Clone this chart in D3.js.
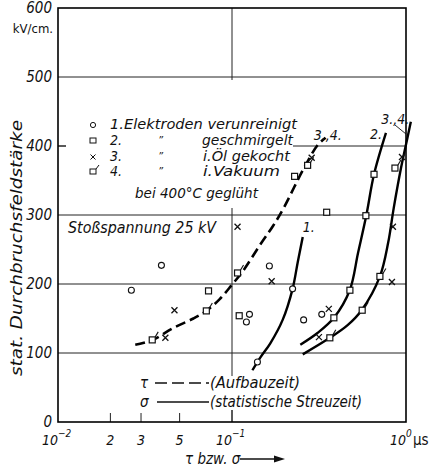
<!DOCTYPE html>
<html>
<head>
<meta charset="utf-8">
<script src="https://cdn.jsdelivr.net/npm/d3@7"></script>
<style>
  body { margin: 0; background: #fff; }
  text { font-family: "DejaVu Sans Condensed", "DejaVu Sans", sans-serif; font-style: italic; fill: #111; }
</style>
</head>
<body>
<script>

// tick values
var yTicks = [0, 100, 200, 300, 400, 500, 600];
var xMinorTicks = [0.02, 0.03, 0.05];
var xMinorLabels = ["2", "3", "5"];
var xDecades = [0.01, 0.1, 1];
var xDecadeExp = ["-2", "-1", "0"];

// measured points [tau or sigma in µs, kV/cm]
var pts1 = [[0.0264, 191], [0.0393, 227], [0.121, 145], [0.126, 156], [0.164, 226],
            [0.14, 87], [0.223, 193], [0.258, 148], [0.328, 156]];
var pts2 = [[0.0733, 190], [0.110, 154], [0.229, 356], [0.35, 304], [0.588, 299],
            [0.655, 359], [0.476, 191], [0.385, 151]];
var pts3 = [[0.0467, 162], [0.0414, 122], [0.1076, 283], [0.169, 204], [0.36, 164],
            [0.316, 123], [0.841, 283], [0.83, 203], [0.948, 384], [0.287, 383]];
var pts4 = [[0.0348, 119], [0.0712, 161], [0.1076, 216], [0.272, 372], [0.365, 122],
            [0.56, 162], [0.708, 211], [0.864, 368]];

// fitted curves
var tau34 = [[0.0278, 112], [0.035, 119], [0.0457, 136], [0.06, 150], [0.0712, 161],
             [0.085, 178], [0.1, 199], [0.115, 218], [0.147, 259], [0.172, 284],
             [0.198, 310], [0.2555, 365], [0.31, 401], [0.345, 412]];
var sigma1 = [[0.131, 75], [0.146, 94], [0.166, 114], [0.1955, 148], [0.223, 193],
              [0.2388, 232], [0.255, 268]];
var sigma2 = [[0.247, 112], [0.31, 129], [0.385, 151], [0.475, 191], [0.53, 245],
              [0.592, 300], [0.655, 359], [0.767, 419]];
var sigma34 = [[0.255, 98], [0.365, 122], [0.46, 140], [0.556, 162], [0.708, 211],
               [0.79, 260], [0.85, 310], [0.936, 368], [0.99, 397], [1.066, 435]];

function load() {

  var width = 435, height = 469;
  var left = 58, right = 406, top = 8, bottom = 422;

  var svg = d3.select("body").append("svg")
      .attr("width", width)
      .attr("height", height);

  var x = d3.scaleLog().domain([0.01, 1]).range([left, right]);
  var y = d3.scaleLinear().domain([0, 600]).range([bottom, top]);

  // grid lines
  svg.selectAll(".hgrid")
     .data(yTicks.filter(function(d) { return d > 0 && d < 600; }))
     .enter().append("line")
     .attr("x1", left).attr("x2", right)
     .attr("y1", function(d) { return y(d); })
     .attr("y2", function(d) { return y(d); })
     .attr("stroke", "#222").attr("stroke-width", 1);

  svg.append("line")
     .attr("x1", x(0.1)).attr("x2", x(0.1))
     .attr("y1", top).attr("y2", bottom)
     .attr("stroke", "#222").attr("stroke-width", 1);

  // white masks behind the legend texts
  svg.append("rect").attr("x", 66).attr("y", 80).attr("width", 227).attr("height", 128).attr("fill", "#fff");
  svg.append("rect").attr("x", 138).attr("y", 376).attr("width", 228).attr("height", 34).attr("fill", "#fff");

  // minor ticks inside the frame
  svg.selectAll(".xtick")
     .data(xMinorTicks)
     .enter().append("line")
     .attr("x1", function(d) { return x(d); })
     .attr("x2", function(d) { return x(d); })
     .attr("y1", bottom).attr("y2", bottom - 9)
     .attr("stroke", "#222");
  svg.append("line")
     .attr("x1", x(0.1)).attr("x2", x(0.1))
     .attr("y1", bottom).attr("y2", bottom - 12)
     .attr("stroke", "#222");
  svg.append("line")
     .attr("x1", left).attr("x2", left + 8)
     .attr("y1", y(400)).attr("y2", y(400))
     .attr("stroke", "#222");

  // frame
  svg.append("rect")
     .attr("x", left).attr("y", top)
     .attr("width", right - left).attr("height", bottom - top)
     .attr("fill", "none").attr("stroke", "#000").attr("stroke-width", 1.6);

  // y axis labels
  var yAxis = d3.axisLeft(y).tickValues(yTicks).tickSize(0).tickPadding(6);
  var yg = svg.append("g")
     .attr("transform", "translate(" + left + ",0)")
     .call(yAxis);
  yg.select(".domain").remove();
  yg.selectAll("text")
     .attr("font-size", 15)
     .style("font-family", "DejaVu Sans Condensed")
     .style("font-style", "italic")
     .attr("fill", "#111");

  svg.append("text")
     .attr("x", 53).attr("y", 33)
     .attr("text-anchor", "end")
     .attr("font-size", 13)
     .style("font-style", "normal")
     .text("kV/cm.");

  // x tick labels
  svg.selectAll(".xminor")
     .data(xMinorTicks)
     .enter().append("text")
     .attr("x", function(d) { return x(d); })
     .attr("y", 445)
     .attr("text-anchor", "middle")
     .attr("font-size", 14)
     .text(function(d, i) { return xMinorLabels[i]; });

  var dec = svg.selectAll(".xdec")
     .data(xDecades)
     .enter().append("g")
     .attr("transform", function(d) { return "translate(" + x(d) + ",445)"; });
  dec.append("text")
     .attr("text-anchor", "end").attr("x", 0)
     .attr("font-size", 14)
     .text("10");
  dec.append("text")
     .attr("x", 0).attr("y", -8)
     .attr("font-size", 10)
     .text(function(d, i) { return xDecadeExp[i] == "0" ? "0" : "\u2212" + xDecadeExp[i].slice(1); });

  svg.append("text")
     .attr("x", 413).attr("y", 445)
     .attr("font-size", 15)
     .style("font-style", "normal")
     .text("\u00b5s");

  // x title
  svg.append("text")
     .attr("x", 185).attr("y", 464)
     .attr("font-size", 15)
     .text("\u03c4 bzw. \u03c3");
  svg.append("line")
     .attr("x1", 240).attr("x2", 281).attr("y1", 459).attr("y2", 459)
     .attr("stroke", "#111").attr("stroke-width", 1.3);
  svg.append("path")
     .attr("d", "M285,459 L274,455.5 L274,462.5 Z")
     .attr("fill", "#111");

  // y title
  svg.append("text")
     .attr("transform", "translate(22,248) rotate(-90)")
     .attr("text-anchor", "middle")
     .attr("font-size", 16)
     .attr("textLength", 256)
     .attr("lengthAdjust", "spacingAndGlyphs")
     .text("stat. Durchbruchsfeldst\u00e4rke");

  // curves
  var line = d3.line()
     .x(function(d) { return x(d[0]); })
     .y(function(d) { return y(d[1]); })
     .curve(d3.curveCatmullRom.alpha(0.5));

  svg.append("path").datum(tau34)
     .attr("d", line).attr("fill", "none")
     .attr("stroke", "#000").attr("stroke-width", 2.6)
     .attr("stroke-dasharray", "10,5");

  [sigma1, sigma2, sigma34].forEach(function(c) {
    svg.append("path").datum(c)
       .attr("d", line).attr("fill", "none")
       .attr("stroke", "#000").attr("stroke-width", 2.4);
  });

  // markers
  function pos(d) { return "translate(" + x(d[0]) + "," + y(d[1]) + ")"; }

  svg.selectAll(".p1").data(pts1).enter().append("circle")
     .attr("cx", function(d) { return x(d[0]); })
     .attr("cy", function(d) { return y(d[1]); })
     .attr("r", 3).attr("fill", "#fff").attr("stroke", "#111").attr("stroke-width", 1.1);

  svg.selectAll(".p2").data(pts2).enter().append("rect")
     .attr("x", function(d) { return x(d[0]) - 3; })
     .attr("y", function(d) { return y(d[1]) - 3; })
     .attr("width", 6).attr("height", 6)
     .attr("fill", "#fff").attr("stroke", "#111").attr("stroke-width", 1.2);

  svg.selectAll(".p3").data(pts3).enter().append("path")
     .attr("transform", pos)
     .attr("d", "M-3,-3L3,3M-3,3L3,-3")
     .attr("stroke", "#111").attr("stroke-width", 1.3);

  var g4 = svg.selectAll(".p4").data(pts4).enter().append("g")
     .attr("transform", pos);
  g4.append("rect")
     .attr("x", -3).attr("y", -3).attr("width", 6).attr("height", 6)
     .attr("fill", "#fff").attr("stroke", "#111").attr("stroke-width", 1.2);
  g4.append("path")
     .attr("d", "M3,-3L6,-8")
     .attr("fill", "none").attr("stroke", "#111").attr("stroke-width", 1.1);

  // curve labels
  function label(v, e, s) {
    svg.append("text")
       .attr("x", x(v)).attr("y", y(e))
       .attr("font-size", 14)
       .text(s);
  }
  label(0.295, 409, "3.,4.");
  label(0.62, 410, "2.");
  label(0.72, 432, "3.,4.");
  label(0.255, 275, "1.");
  svg.append("line")
     .attr("x1", 395).attr("y1", 125).attr("x2", 406).attr("y2", 134)
     .attr("stroke", "#111").attr("stroke-width", 0.9);

  // legend (upper)
  var legRows = [129, 145, 161, 176];
  svg.append("circle").attr("cx", 93).attr("cy", legRows[0] - 4).attr("r", 2.6)
     .attr("fill", "#fff").attr("stroke", "#111");
  svg.append("rect").attr("x", 90).attr("y", legRows[1] - 7).attr("width", 6).attr("height", 5)
     .attr("fill", "#fff").attr("stroke", "#111");
  svg.append("path").attr("transform", "translate(93," + (legRows[2] - 4) + ")")
     .attr("d", "M-2.5,-2.5L2.5,2.5M-2.5,2.5L2.5,-2.5").attr("stroke", "#111");
  svg.append("rect").attr("x", 90).attr("y", legRows[3] - 7).attr("width", 6).attr("height", 5)
     .attr("fill", "#fff").attr("stroke", "#111");
  svg.append("path").attr("d", "M96," + (legRows[3] - 7) + "L99," + (legRows[3] - 11))
     .attr("stroke", "#111").attr("fill", "none");

  svg.append("text").attr("x", 110).attr("y", legRows[0]).attr("font-size", 14)
     .attr("textLength", 187).attr("lengthAdjust", "spacingAndGlyphs")
     .text("1.Elektroden verunreinigt");
  ["2.", "3.", "4."].forEach(function(s, i) {
    svg.append("text").attr("x", 110).attr("y", legRows[i + 1]).attr("font-size", 14).text(s);
    svg.append("text").attr("x", 158).attr("y", legRows[i + 1] - 1).attr("font-size", 11).text("\u201d");
  });
  svg.append("text").attr("x", 202).attr("y", legRows[1]).attr("font-size", 14)
     .attr("textLength", 91).attr("lengthAdjust", "spacingAndGlyphs").text("geschmirgelt");
  svg.append("text").attr("x", 203).attr("y", legRows[2]).attr("font-size", 14)
     .attr("textLength", 87).attr("lengthAdjust", "spacingAndGlyphs").text("i.\u00d6l gekocht");
  svg.append("text").attr("x", 203).attr("y", legRows[3]).attr("font-size", 14)
     .attr("textLength", 77).attr("lengthAdjust", "spacingAndGlyphs").text("i.Vakuum");
  svg.append("text").attr("x", 135).attr("y", 198).attr("font-size", 14)
     .attr("textLength", 123).attr("lengthAdjust", "spacingAndGlyphs").text("bei 400\u00b0C gegl\u00fcht");

  svg.append("text").attr("x", 68).attr("y", 233).attr("font-size", 16)
     .attr("textLength", 148).attr("lengthAdjust", "spacingAndGlyphs")
     .text("Sto\u00dfspannung 25 kV");

  // legend (lower)
  svg.append("text").attr("x", 140).attr("y", 388).attr("font-size", 15).text("\u03c4");
  svg.append("line").attr("x1", 155).attr("x2", 209).attr("y1", 383).attr("y2", 383)
     .attr("stroke", "#111").attr("stroke-width", 1.5).attr("stroke-dasharray", "12,5");
  svg.append("text").attr("x", 210).attr("y", 388).attr("font-size", 15)
     .attr("textLength", 90).attr("lengthAdjust", "spacingAndGlyphs").text("(Aufbauzeit)");
  svg.append("text").attr("x", 140).attr("y", 407).attr("font-size", 15).text("\u03c3");
  svg.append("line").attr("x1", 157).attr("x2", 209).attr("y1", 402).attr("y2", 402)
     .attr("stroke", "#111").attr("stroke-width", 1.5);
  svg.append("text").attr("x", 210).attr("y", 407).attr("font-size", 15)
     .attr("textLength", 152).attr("lengthAdjust", "spacingAndGlyphs").text("(statistische Streuzeit)");
}

load();
</script>
</body>
</html>
